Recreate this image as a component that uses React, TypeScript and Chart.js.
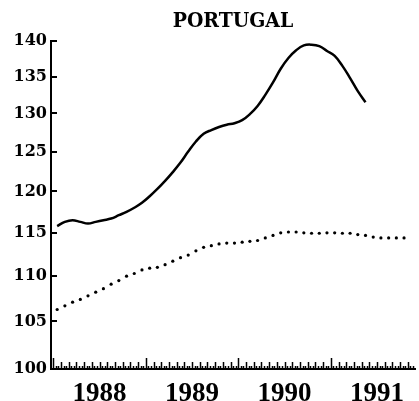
import React, { useEffect, useRef } from "react";
import { Chart, registerables } from "chart.js";

Chart.register(...registerables);

const title = "PORTUGAL";
const startYear = 1988;
const yearLabels = ["1988", "1989", "1990", "1991"];
const yTickValues = [100, 105, 110, 115, 120, 125, 130, 135, 140];

// monthly values, January 1988 onward
const solidSeries = [
  115.8, 116.3, 116.5, 116.3, 116.1, 116.3, 116.5, 116.7, 117.1, 117.5, 118.0, 118.6,
  119.4, 120.3, 121.3, 122.4, 123.6, 125.0, 126.3, 127.3, 127.8, 128.2, 128.5, 128.7,
  129.1, 129.9, 131.0, 132.5, 134.2, 136.1, 137.6, 138.7, 139.4, 139.5, 139.3, 138.6,
  137.9, 136.5, 134.8, 133.0, 131.5,
];

const dottedSeries = [
  106.3, 106.7, 107.1, 107.4, 107.8, 108.2, 108.6, 109.1, 109.5, 110.0, 110.3, 110.7,
  110.9, 111.0, 111.3, 111.7, 112.1, 112.4, 112.9, 113.3, 113.5, 113.7, 113.8, 113.8,
  113.9, 114.0, 114.1, 114.4, 114.7, 115.0, 115.1, 115.1, 115.0, 114.95, 114.95, 115.0,
  115.0, 114.95, 114.95, 114.8, 114.7, 114.5, 114.4, 114.4, 114.4, 114.4,
];

const xMin = 1987.975;
const xMax = 1991.91;

const toPoints = (arr: number[]) =>
  arr.map((v, i) => ({ x: startYear + (i + 0.5) / 12, y: v }));

const inwardTicks = {
  id: "inwardTicks",
  afterDraw(chart: any) {
    const { ctx, chartArea, scales } = chart;
    const xs = scales.x;
    const ys = scales.y;
    ctx.save();
    ctx.strokeStyle = "#000";
    ctx.lineWidth = 2;
    ctx.beginPath();
    for (const v of yTickValues) {
      const py = Math.round(ys.getPixelForValue(v));
      ctx.moveTo(chartArea.left, py);
      ctx.lineTo(chartArea.left + 6, py);
    }
    ctx.stroke();
    ctx.lineWidth = 1.5;
    ctx.beginPath();
    const b = chartArea.bottom;
    for (let m = 0; m < 12 * 5; m++) {
      for (let k = 0; k < 3; k++) {
        const xv = startYear + (m + k / 3) / 12;
        if (xv > xMax) continue;
        const px = Math.round(xs.getPixelForValue(xv)) + 0.5;
        let len = 3;
        if (k === 0) len = m % 12 === 0 ? 11 : 7;
        ctx.moveTo(px, b);
        ctx.lineTo(px, b - len);
      }
    }
    ctx.stroke();
    ctx.restore();
  },
};

export default function App() {
  const ref = useRef<HTMLCanvasElement | null>(null);
  useEffect(() => {
    document.body.style.margin = "0";
    const canvas = ref.current!;
    const chart = new Chart(canvas, {
      type: "line",
      data: {
        datasets: [
          {
            data: toPoints(solidSeries),
            borderColor: "#000",
            borderWidth: 2.5,
            pointRadius: 0,
            tension: 0.4,
            fill: false,
          },
          {
            data: toPoints(dottedSeries),
            showLine: false,
            borderColor: "#000",
            backgroundColor: "#000",
            pointRadius: 1.6,
            pointBorderWidth: 0,
          },
        ],
      },
      options: {
        animation: false,
        responsive: false,
        devicePixelRatio: 1,
        layout: { padding: { left: 0, right: 1, top: 0, bottom: 0 } },
        plugins: {
          legend: { display: false },
          tooltip: { enabled: false },
          title: {
            display: true,
            text: title,
            fullSize: false,
            color: "#000",
            font: { family: "'DejaVu Serif Condensed', 'DejaVu Serif', serif", size: 21, weight: "bold" },
            padding: { top: 9, bottom: 7 },
          },
        },
        scales: {
          x: {
            type: "linear",
            min: xMin,
            max: xMax,
            grid: { display: false, drawTicks: false },
            border: { display: true, color: "#000", width: 2 },
            afterBuildTicks: (scale: any) => {
              scale.ticks = yearLabels.map((l) => ({ value: Number(l) + 0.5 }));
            },
            afterFit: (scale: any) => {
              scale.height = 32;
            },
            ticks: {
              autoSkip: false,
              maxRotation: 0,
              padding: 9,
              color: "#000",
              font: { family: "'Liberation Serif', serif", size: 27, weight: "bold" },
              callback: (v: any) => String(Math.floor(Number(v))),
            },
          },
          y: {
            type: "logarithmic",
            min: 100,
            max: 140,
            grid: { display: false, drawTicks: false },
            border: { display: true, color: "#000", width: 2 },
            afterBuildTicks: (scale: any) => {
              scale.ticks = yTickValues.map((v) => ({ value: v }));
            },
            afterFit: (scale: any) => {
              scale.width = 51;
            },
            ticks: {
              autoSkip: false,
              padding: 4,
              color: "#000",
              font: { family: "'DejaVu Serif', serif", size: 16, weight: "bold" },
              callback: (v: any) => String(v),
            },
          },
        },
      },
      plugins: [inwardTicks],
    });
    return () => chart.destroy();
  }, []);
  return <canvas ref={ref} width={419} height={401} style={{ display: "block" }} />;
}
